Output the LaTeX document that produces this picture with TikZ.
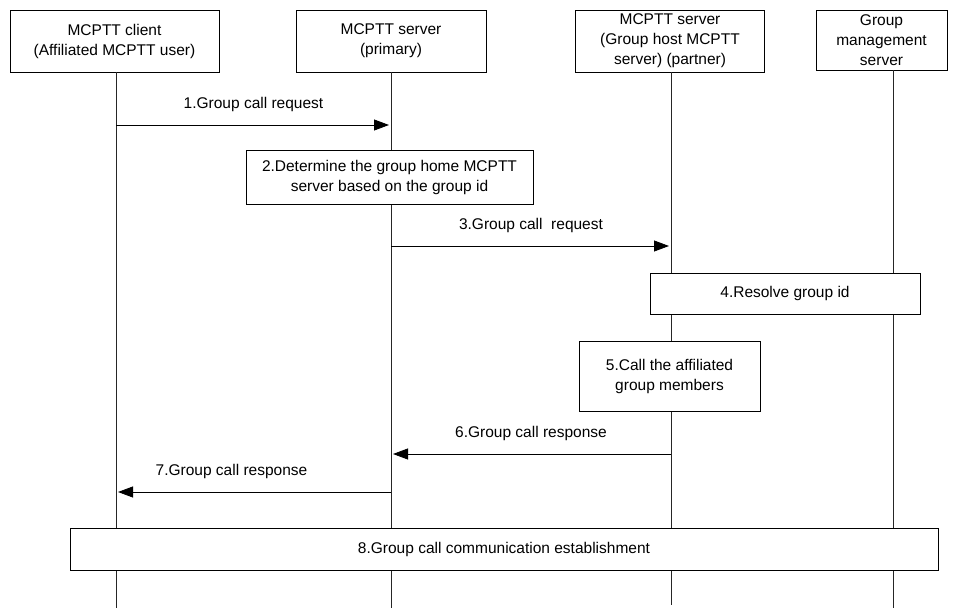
\documentclass[tikz,border=0pt]{standalone}
\usepackage{fontspec}
\setmainfont{Liberation Sans}
\usetikzlibrary{arrows.meta}
\begin{document}
\begin{tikzpicture}[x=1pt,y=-1pt,line width=0.8pt,
  font=\fontsize{15.5}{20}\selectfont,
  entity/.style={draw,fill=white,align=center,inner sep=0pt},
  action/.style={draw,fill=white,align=center,inner sep=0pt},
  msg/.style={-{Triangle[length=15pt,width=11pt]},shorten >=2pt},
  life/.style={draw=black!85}]
  \useasboundingbox (0,0) rectangle (957,609);
  % entities
  \node[entity,minimum width=209pt,minimum height=62pt] (client) at (114.5,41)
    {MCPTT client\\(Affiliated MCPTT user)};
  \node[entity,minimum width=190pt,minimum height=62pt] (primary) at (391,41)
    {MCPTT server\\(primary)};
  \node[entity,minimum width=189pt,minimum height=62pt] (partner) at (670,41)
    {MCPTT server\\(Group host MCPTT\\server) (partner)};
  \node[entity,minimum width=131pt,minimum height=60pt] (gms) at (881.5,40)
    {Group\\management\\server};
  % lifelines
  \coordinate (clientLine) at (116,608);
  \coordinate (primaryLine) at (391,608);
  \coordinate (partnerLine) at (671,605);
  \coordinate (gmsLine) at (893,608);
  \foreach \e in {client,primary,partner,gms}
    \draw[life] (\e Line |- \e.south) -- (\e Line);
  % messages and actions
  \draw[msg] (clientLine |- 0,125) -- node[above=10pt] {1.Group call request} (primaryLine |- 0,125);
  \node[action,minimum width=287pt,minimum height=54pt] (determine) at (389.5,177)
    {2.Determine the group home MCPTT\\server based on the group id};
  \draw[msg] (primaryLine |- 0,246) -- node[above=10pt] {3.Group call\ \ request} (partnerLine |- 0,246);
  \node[action,minimum width=270pt,minimum height=41pt] (resolve) at (785,293.5)
    {4.Resolve group id};
  \node[action,minimum width=181pt,minimum height=70pt] (callmembers) at (669.5,376)
    {5.Call the affiliated\\group members};
  \draw[msg] (partnerLine |- 0,454) -- node[above=10pt] {6.Group call response} (primaryLine |- 0,454);
  \draw[msg] (primaryLine |- 0,492) -- node[above=10pt,pos=0.58] {7.Group call response} (clientLine |- 0,492);
  \node[action,minimum width=868pt,minimum height=42pt] (establish) at (504,549)
    {8.Group call communication establishment};
\end{tikzpicture}
\end{document}
